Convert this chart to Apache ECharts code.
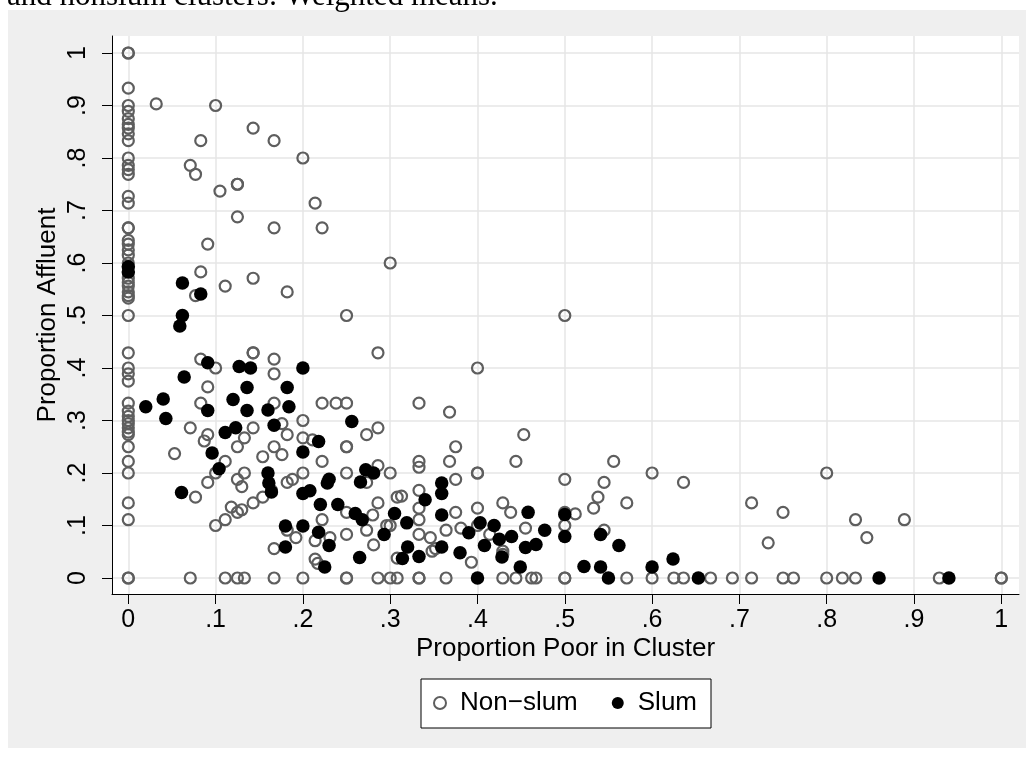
<!DOCTYPE html>
<html>
<head>
<meta charset="utf-8">
<script src="https://cdn.jsdelivr.net/npm/echarts@6/dist/echarts.min.js"></script>
<style>
html,body{margin:0;padding:0;background:#fff;}
#c{width:1034px;height:758px;}
</style>
</head>
<body>
<div id="c"></div>
<script>
// ---------- texts ----------
const headerText = 'and nonslum clusters: Weighted means.';
const xTitle = 'Proportion Poor in Cluster';
const yTitle = 'Proportion Affluent';
const seriesNames = ['Non\u2212slum', 'Slum'];

// ---------- ticks ----------
const xTickValues = [0, 0.1, 0.2, 0.3, 0.4, 0.5, 0.6, 0.7, 0.8, 0.9, 1];
const xTickLabels = ['0', '.1', '.2', '.3', '.4', '.5', '.6', '.7', '.8', '.9', '1'];
const yTickValues = [0, 0.1, 0.2, 0.3, 0.4, 0.5, 0.6, 0.7, 0.8, 0.9, 1];
const yTickLabels = ['0', '.1', '.2', '.3', '.4', '.5', '.6', '.7', '.8', '.9', '1'];

// ---------- data: [proportion poor, proportion affluent] ----------
const nonSlum = [
  [0,1],[0,1],[0,.933],[0,.9],[0,.889],[0,.875],[0,.864],[0,.857],[0,.846],[0,.833],
  [0,.8],[0,.786],[0,.778],[0,.769],[0,.727],[0,.714],[0,.667],[0,.667],[0,.643],[0,.636],
  [0,.625],[0,.615],[0,.6],[0,.571],[0,.563],[0,.556],[0,.545],[0,.538],[0,.533],[0,.5],
  [0,.429],[0,.4],[0,.389],[0,.375],[0,.333],[0,.318],[0,.308],[0,.3],[0,.294],[0,.286],
  [0,.278],[0,.273],[0,.25],[0,.222],[0,.2],[0,.143],[0,.111],[0,0],[0,0],
  [.032,.903],[.1,.9],[.143,.857],[.083,.833],[.167,.833],[.2,.8],[.071,.786],[.077,.769],
  [.125,.75],[.125,.75],[.105,.737],[.214,.714],[.125,.688],[.167,.667],[.222,.667],[.091,.636],
  [.3,.6],[.083,.583],[.143,.571],[.111,.556],[.182,.545],[.077,.538],[.25,.5],[.5,.5],
  [.286,.429],[.083,.417],[.167,.417],[.1,.4],[.167,.389],[.091,.364],[.143,.429],[.143,.429],[.4,.4],
  [.083,.333],[.167,.333],[.222,.333],[.238,.333],[.25,.333],[.333,.333],[.368,.316],
  [.071,.286],[.091,.273],[.087,.261],[.176,.294],[.182,.273],[.2,.3],[.2,.267],[.211,.263],
  [.143,.286],[.133,.267],[.125,.25],[.167,.25],[.176,.235],[.154,.231],[.053,.237],[.25,.25],[.25,.25],
  [.273,.273],[.286,.286],[.453,.273],[.375,.25],
  [.222,.222],[.111,.222],[.1,.2],[.133,.2],[.125,.188],[.13,.174],[.091,.182],[.182,.182],[.188,.188],
  [.2,.2],[.25,.2],[.286,.214],[.273,.182],[.3,.2],[.333,.222],[.333,.211],[.368,.222],[.375,.188],
  [.444,.222],[.4,.2],[.4,.2],[.5,.188],[.556,.222],[.6,.2],[.545,.182],[.636,.182],[.8,.2],
  [.077,.154],[.164,.167],[.143,.143],[.154,.154],[.286,.143],[.118,.135],[.125,.125],[.13,.13],
  [.111,.111],[.1,.1],[.222,.111],[.25,.125],[.28,.12],[.273,.091],[.25,.083],[.182,.091],[.192,.077],
  [.214,.071],[.231,.077],[.281,.063],[.167,.056],[.214,.036],[.217,.028],[.296,.1],
  [.308,.154],[.313,.156],[.333,.167],[.333,.133],[.538,.154],[.533,.133],[.571,.143],[.375,.125],
  [.4,.133],[.429,.143],[.438,.125],[.5,.125],[.512,.122],[.333,.111],[.3,.1],[.333,.083],[.346,.077],
  [.364,.091],[.381,.095],[.4,.1],[.414,.083],[.455,.095],[.5,.1],[.545,.091],[.348,.051],[.352,.056],
  [.308,.038],[.429,.051],[.429,.045],[.393,.03],
  [.714,.143],[.75,.125],[.733,.067],[.833,.111],[.846,.077],[.889,.111],
  [.071,0],[.111,0],[.125,0],[.133,0],[.167,0],[.2,0],[.25,0],[.25,0],[.286,0],[.3,0],[.308,0],
  [.333,0],[.333,0],[.364,0],[.429,0],[.444,0],[.462,0],[.467,0],[.5,0],[.5,0],[.571,0],[.6,0],
  [.625,0],[.636,0],[.667,0],[.692,0],[.714,0],[.75,0],[.762,0],[.8,0],[.818,0],[.833,0],[.929,0],[1,0],[1,0]
];
const slum = [
  [0,.593],[0,.583],
  [.062,.562],[.083,.541],[.062,.5],[.059,.48],
  [.091,.41],[.064,.383],[.127,.403],[.14,.4],[.2,.4],[.136,.363],[.182,.363],
  [.02,.326],[.04,.341],[.043,.304],[.091,.319],[.12,.34],[.136,.319],[.16,.32],[.184,.326],[.167,.291],[.256,.298],
  [.111,.277],[.123,.286],[.218,.26],[.2,.24],[.096,.238],[.104,.208],
  [.16,.2],[.161,.181],[.164,.164],[.061,.163],[.2,.161],[.208,.166],[.23,.188],[.228,.181],[.272,.206],[.281,.2],[.266,.183],
  [.22,.14],[.24,.14],[.26,.123],[.268,.111],[.293,.083],[.18,.099],[.2,.099],[.218,.087],[.23,.062],[.18,.059],[.265,.039],[.225,.021],
  [.359,.181],[.359,.161],[.34,.149],[.305,.123],[.359,.12],[.319,.105],[.403,.105],[.39,.086],[.419,.1],[.425,.074],
  [.439,.079],[.458,.125],[.477,.091],[.5,.121],[.5,.079],[.408,.062],[.455,.058],[.467,.064],[.541,.083],[.562,.062],
  [.32,.059],[.314,.037],[.333,.041],[.359,.059],[.38,.048],[.428,.04],[.449,.021],[.4,0],[.522,.022],[.541,.021],
  [.55,0],[.6,.021],[.624,.036],[.653,0],[.86,0],[.94,0]
];

// ---------- chart ----------
const FONT = '"Liberation Sans", Arial, Helvetica, sans-serif';
function labelFor(values, labels) {
  return function (v) {
    for (let i = 0; i < values.length; i++) if (Math.abs(values[i] - v) < 1e-6) return labels[i];
    return '';
  };
}
const chart = echarts.init(document.getElementById('c'), null, { renderer: 'canvas' });
const option = {
  animation: false,
  backgroundColor: '#efefef',
  graphic: [
    { type: 'rect', shape: { x: 0, y: 0, width: 1034, height: 10 }, style: { fill: '#fff' }, silent: true },
    { type: 'rect', shape: { x: 0, y: 0, width: 8, height: 758 }, style: { fill: '#fff' }, silent: true },
    { type: 'rect', shape: { x: 1026, y: 0, width: 8, height: 758 }, style: { fill: '#fff' }, silent: true },
    { type: 'rect', shape: { x: 0, y: 748, width: 1034, height: 10 }, style: { fill: '#fff' }, silent: true },
    { type: 'text', x: 7, y: -3.5, silent: true,
      style: { text: headerText, font: '31px "Liberation Serif", "Times New Roman", serif', fill: '#000',
               verticalAlign: 'middle', align: 'left' } }
  ],
  grid: {
    left: 112, top: 36, width: 907, height: 558,
    show: true, backgroundColor: '#fff', borderWidth: 0,
    containLabel: false, outerBoundsMode: 'none'
  },
  legend: {
    data: seriesNames,
    left: 421, top: 679, orient: 'horizontal',
    padding: [11, 14, 12, 12],
    backgroundColor: '#fff', borderColor: '#000', borderWidth: 1, borderRadius: 0,
    itemWidth: 12, itemHeight: 12, itemGap: 34,
    textStyle: { fontFamily: FONT, fontSize: 26, color: '#000', padding: [0, 0, 0, 9] }
  },
  xAxis: {
    type: 'value', min: -0.01867, max: 1.0203,
    name: xTitle, nameLocation: 'middle', nameGap: 42, nameMoveOverlap: false,
    nameTextStyle: { fontFamily: FONT, fontSize: 26, color: '#000' },
    axisLine: { show: true, onZero: false, lineStyle: { color: '#000', width: 1 } },
    axisTick: { show: true, inside: false, length: 10, customValues: xTickValues, lineStyle: { color: '#000', width: 1 } },
    axisLabel: { show: true, customValues: xTickValues, formatter: labelFor(xTickValues, xTickLabels),
                 margin: 14, fontFamily: FONT, fontSize: 25, color: '#000', hideOverlap: false },
    splitLine: { show: true, lineStyle: { color: '#e6e6e6', width: 1.5 } }
  },
  yAxis: {
    type: 'value', min: -0.03048, max: 1.0324,
    name: yTitle, nameLocation: 'middle', nameGap: 51, nameRotate: 90, nameMoveOverlap: false,
    nameTextStyle: { fontFamily: FONT, fontSize: 26, color: '#000' },
    axisLine: { show: true, onZero: false, lineStyle: { color: '#000', width: 1 } },
    axisTick: { show: true, inside: false, length: 10, customValues: yTickValues, lineStyle: { color: '#000', width: 1 } },
    axisLabel: { show: true, customValues: yTickValues, formatter: labelFor(yTickValues, yTickLabels),
                 rotate: 90, margin: 21, fontFamily: FONT, fontSize: 25, color: '#000', hideOverlap: false },
    splitLine: { show: true, lineStyle: { color: '#e6e6e6', width: 1.5 } }
  },
  series: [
    {
      name: seriesNames[0], type: 'scatter', data: nonSlum,
      symbol: 'circle', symbolSize: 11,
      itemStyle: { color: 'rgba(0,0,0,0)', borderColor: '#5e5e5e', borderWidth: 2.2, opacity: 1 },
      emphasis: { disabled: true }, z: 2
    },
    {
      name: seriesNames[1], type: 'scatter', data: slum,
      symbol: 'circle', symbolSize: 13.5,
      itemStyle: { color: '#000', borderWidth: 0, opacity: 1 },
      emphasis: { disabled: true }, z: 3
    }
  ]
};
chart.setOption(option);
</script>
</body>
</html>
